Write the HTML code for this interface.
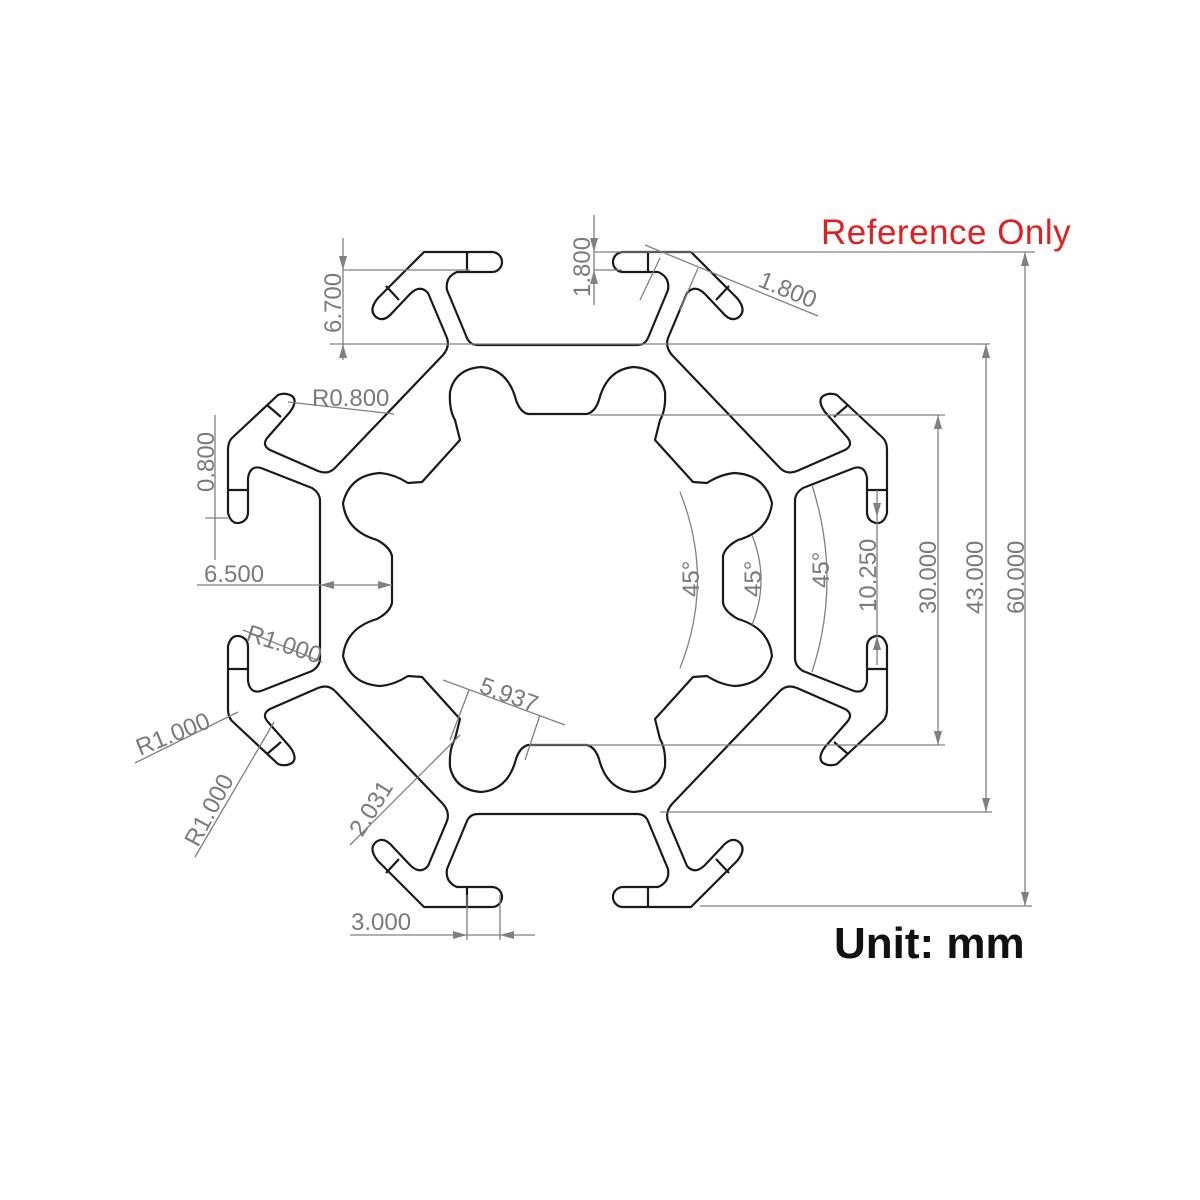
<!DOCTYPE html>
<html><head><meta charset="utf-8"><style>
html,body{margin:0;padding:0;background:#fff;width:1200px;height:1200px;overflow:hidden}
svg{display:block}
.dim{stroke:#808080;stroke-width:1.3;fill:none}
.t{font-family:"Liberation Sans",sans-serif;font-size:24px;fill:#7a7a7a}
</style></head><body>
<svg width="1200" height="1200" viewBox="0 0 1200 1200" xmlns="http://www.w3.org/2000/svg">
<defs>
<g id="q" fill="none" stroke="#1a1a1a" stroke-width="2.2" stroke-linejoin="round">
<path d="M557.5 345 L478 345 Q470 345 467 338 L447 290 Q445 277 457 272 L492 272 A10 10 0 0 0 492 252 L424 252 L378 298 Q368 310 376 317 Q384 323 393 312 L410 294 Q420 284 428 293 L447 338 Q450 347 443 355 L335 468 Q328 475 318 471 L270 450 Q261 445 268 437 L290 412 Q298 401 292 396 Q285 392 278 395 L232 438 Q228 442 228 450 L228 513 Q231 524 239 523 Q248 521 248 512 L248 478 Q250 465 261 468 L312 488 Q320 493 320 501 L320 579.5"/>
<path d="M557.5 414 L528 414 Q520 412 516 400 Q508 369 481 367 Q455 369 450 392 Q449 410 455 420 L460 440 L422 482 L408 483 Q394 474 380 473 Q350 475 343 503 Q346 531 377 540 Q390 547 392 556 L392 579.5"/>
<path d="M467 252 L467 272 M386 286 L399 300 M267 405 L281 417 M228 490 L248 490"/>
</g>
</defs>
<use href="#q"/>
<use href="#q" transform="translate(1115,0) scale(-1,1)"/>
<use href="#q" transform="translate(0,1159) scale(1,-1)"/>
<use href="#q" transform="translate(1115,1159) scale(-1,-1)"/>

<g class="dim">
<path d="M343 238 V360 M343 270 H470 M330 344 H990"/>
<path d="M594 215 V305 M594 252 H1035 M594 270 H622"/>
<path d="M645 245 L818 316 M660 258 L640 300 M698 268 L680 310"/>
<path d="M288 402 L394 414"/>
<path d="M215 415 V560 M205 518 H228"/>
<path d="M197 585 H392"/>
<path d="M243 630 L322 662"/>
<path d="M135 763 L238 712"/>
<path d="M195 857 L274 722"/>
<path d="M350 845 L460 735"/>
<path d="M443 680 L565 725 M469 690 L450 740 M540 715 L525 760"/>
<path d="M350 935 H535 M467 895 V940 M500 895 V940"/>
<path d="M680 492 Q715 580 680 668"/>
<path d="M752 535 Q770 580 752 625"/>
<path d="M812 485 Q842 580 812 672"/>
<path d="M877 490 V665"/>
<path d="M938 415 V745 M590 415 H945 M530 745 H945"/>
<path d="M986 344 V812 M660 812 H992"/>
<path d="M1025 252 V906 M700 906 H1032"/>
</g>
<g fill="#808080">
<path d="M343 270 l-4 -14 h8z M343 344 l-4 14 h8z M594 252 l-4 -14 h8z M594 270 l-4 14 h8z M938 415 l-4 14 h8z M938 745 l-4 -14 h8z M986 344 l-4 14 h8z M986 812 l-4 -14 h8z M1025 252 l-4 14 h8z M1025 906 l-4 -14 h8z M320 585 l14 -4 v8z M392 585 l-14 -4 v8z M467 935 l-14 -4 v8z M500 935 l14 -4 v8z M877 517 l-4 -14 h8z M877 636 l-4 14 h8z"/>
</g>
<g class="t">
<text transform="translate(341,333) rotate(-90)">6.700</text>
<text transform="translate(590,297) rotate(-90)">1.800</text>
<text transform="translate(757,286) rotate(22)">1.800</text>
<text x="312" y="406">R0.800</text>
<text transform="translate(214,492) rotate(-90)">0.800</text>
<text x="204" y="582">6.500</text>
<text transform="translate(245,640) rotate(18)">R1.000</text>
<text transform="translate(140,756) rotate(-22)">R1.000</text>
<text transform="translate(198,848) rotate(-62)">R1.000</text>
<text transform="translate(362,838) rotate(-58)">2.031</text>
<text transform="translate(478,692) rotate(20)">5.937</text>
<text x="351" y="930">3.000</text>
<text transform="translate(699,597) rotate(-90)">45°</text>
<text transform="translate(761,597) rotate(-90)">45°</text>
<text transform="translate(829,588) rotate(-90)">45°</text>
<text transform="translate(876,612) rotate(-90)">10.250</text>
<text transform="translate(936,614) rotate(-90)">30.000</text>
<text transform="translate(983,614) rotate(-90)">43.000</text>
<text transform="translate(1024,614) rotate(-90)">60.000</text>
</g>
<text x="821" y="244" font-family="Liberation Sans, sans-serif" font-size="35" letter-spacing="0.5" fill="#e02020">Reference Only</text>
<text x="834" y="958" font-family="Liberation Sans, sans-serif" font-size="44" font-weight="bold" fill="#111">Unit: mm</text>
</svg>
</body></html>
